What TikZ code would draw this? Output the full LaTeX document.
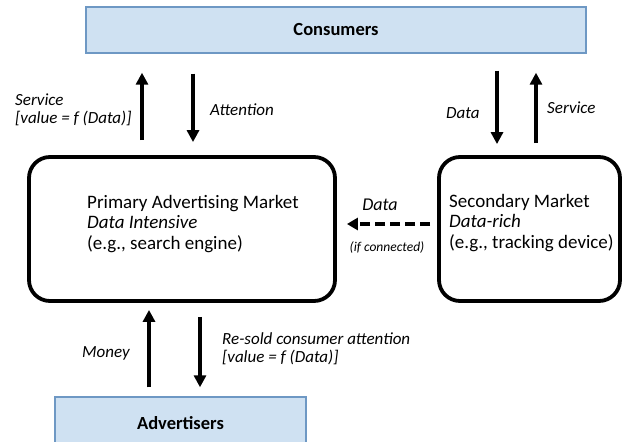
\documentclass[tikz,border=0pt]{standalone}
\usepackage{fontspec}
\setmainfont{Carlito}
\usetikzlibrary{arrows.meta}
\definecolor{boxfill}{HTML}{CFE1F2}
\definecolor{boxline}{HTML}{6E98C4}
\begin{document}
\begin{tikzpicture}[x=1bp,y=-1bp,
  partybox/.style={draw=boxline, fill=boxfill, line width=1.4bp, inner sep=0pt,
    font=\fontsize{18.5bp}{22bp}\selectfont\bfseries},
  market/.style={draw, line width=3.8bp, rounded corners=21bp, inner sep=0pt,
    minimum height=144bp},
  mtext/.style={align=left, inner sep=0pt, font=\fontsize{19bp}{20.5bp}\selectfont},
  flow/.style={line width=3.6bp, -{Triangle[width=12bp,length=12bp]}},
  lbl/.style={font=\fontsize{17bp}{18bp}\selectfont\itshape, align=left, inner sep=0pt}
]
\useasboundingbox (0,0) rectangle (626,442);

% parties
\node[partybox, minimum width=500bp, minimum height=46bp] (cons) at (336,30) {Consumers};
\node[partybox, minimum width=251bp, minimum height=52bp] (adv) at (180.5,423) {Advertisers};

% markets
\node[market, minimum width=306bp] (prim) at (182,229) {};
\node[market, minimum width=181bp] (sec) at (529.5,229) {};
\node[mtext, anchor=west] at (87,224) {Primary Advertising Market\\\textit{Data Intensive}\\(e.g., search engine)};
\node[mtext, anchor=west] at (449,223) {Secondary Market\\\textit{Data-rich}\\(e.g., tracking device)};

% flows between consumers and the primary market
\draw[flow, shorten <=15bp, shorten >=19bp] (142,0 |- prim.north) -- (142,0 |- cons.south);
\draw[flow, shorten <=20bp, shorten >=13bp] (193,0 |- cons.south) -- (193,0 |- prim.north);
\node[lbl, anchor=west] at (15,110) {Service\\{[value = f (Data)]}};
\node[lbl, anchor=west] at (210,110) {Attention};

% flows between consumers and the secondary market
\draw[flow, shorten <=17bp, shorten >=11bp] (497,0 |- cons.south) -- (497,0 |- sec.north);
\draw[flow, shorten <=12bp, shorten >=19bp] (536,0 |- sec.north) -- (536,0 |- cons.south);
\node[lbl, anchor=west] at (446,113) {Data};
\node[lbl, anchor=west] at (547,108) {Service};

% data passed on from the secondary market
\draw[line width=3.6bp, dash pattern=on 10bp off 5bp, -{Triangle[width=12bp,length=11bp]},
  shorten <=7bp, shorten >=10bp] (sec.west |- 0,224) -- (prim.east |- 0,224);
\node[font=\fontsize{18bp}{20bp}\selectfont\itshape, inner sep=0pt] at (380,205) {Data};
\node[font=\fontsize{13.5bp}{15bp}\selectfont\itshape, inner sep=0pt] at (387,247) {(if connected)};

% flows between advertisers and the primary market
\draw[flow, shorten <=9bp, shorten >=7bp] (149,0 |- adv.north) -- (149,0 |- prim.south);
\draw[flow, shorten <=14bp, shorten >=9bp] (200,0 |- prim.south) -- (200,0 |- adv.north);
\node[lbl, anchor=west] at (82,353) {Money};
\node[lbl, anchor=west] at (222,349) {Re-sold consumer attention\\{[value = f (Data)]}};
\end{tikzpicture}
\end{document}
